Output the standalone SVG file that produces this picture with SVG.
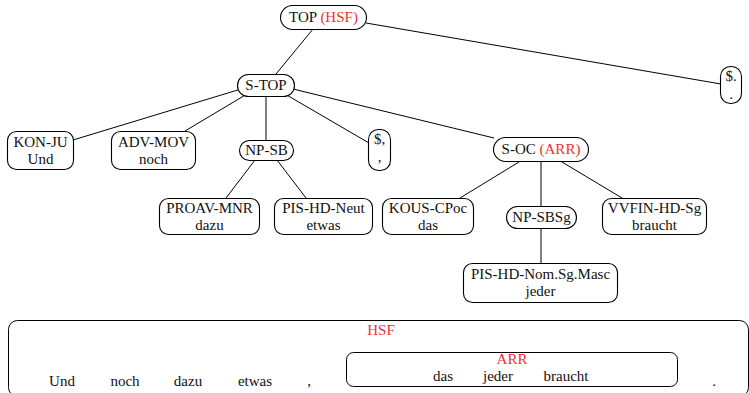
<svg xmlns="http://www.w3.org/2000/svg" width="749" height="393" viewBox="0 0 749 393" font-family="Liberation Serif, DejaVu Serif, serif">
<style>
text{font-size:15px;fill:#111;text-anchor:middle}
.r{fill:#f03030}
.n{fill:#fff;stroke:#000;stroke-width:1.1}
.c line{stroke:#000;stroke-width:1}
.b{fill:none;stroke:#000;stroke-width:1}
</style>
<rect width="749" height="393" fill="#fff"/>
<g class="c" id="connectors">
<line x1="313" y1="29" x2="276" y2="74"/>
<line x1="366" y1="23" x2="721" y2="84"/>
<line x1="241" y1="89" x2="73" y2="140"/>
<line x1="247" y1="94" x2="185" y2="131"/>
<line x1="266" y1="97" x2="266" y2="140"/>
<line x1="285" y1="94" x2="369" y2="143"/>
<line x1="293" y1="89" x2="494" y2="138"/>
<line x1="255" y1="160" x2="226" y2="198"/>
<line x1="277" y1="160" x2="306" y2="198"/>
<line x1="519" y1="162" x2="460" y2="198"/>
<line x1="541" y1="162" x2="541" y2="206"/>
<line x1="562" y1="162" x2="622" y2="198"/>
<line x1="541" y1="228" x2="541" y2="263"/>
</g>
<g id="n-top"><rect class="n" x="280.5" y="5.5" width="86" height="24" rx="12"/><text x="323.5" y="22">TOP <tspan class="r">(HSF)</tspan></text></g>
<g id="n-stop"><rect class="n" x="237.5" y="74.5" width="57" height="22" rx="11"/><text x="266" y="90">S-TOP</text></g>
<g id="n-dot"><rect class="n" x="720.5" y="66.5" width="21" height="37" rx="10"/><text x="731" y="81">$.</text><text x="731" y="99">.</text></g>
<g id="n-konju"><rect class="n" x="7.5" y="131.5" width="66" height="38" rx="9"/><text x="40.5" y="147">KON-JU</text><text x="40.5" y="164">Und</text></g>
<g id="n-advmov"><rect class="n" x="111.5" y="131.5" width="84" height="38" rx="9"/><text x="153.5" y="147">ADV-MOV</text><text x="153.5" y="164">noch</text></g>
<g id="n-npsb"><rect class="n" x="239.5" y="140.5" width="54" height="20" rx="10"/><text x="266.5" y="155">NP-SB</text></g>
<g id="n-comma"><rect class="n" x="368.5" y="129.5" width="22" height="41" rx="10"/><text x="379.5" y="144">$,</text><text x="379.5" y="162">,</text></g>
<g id="n-soc"><rect class="n" x="493.5" y="137.5" width="95" height="24" rx="12"/><text x="541" y="154">S-OC <tspan class="r">(ARR)</tspan></text></g>
<g id="n-proav"><rect class="n" x="159.5" y="198.5" width="100" height="36" rx="9"/><text x="209.5" y="213">PROAV-MNR</text><text x="209.5" y="230">dazu</text></g>
<g id="n-pisneut"><rect class="n" x="274.5" y="198.5" width="98" height="36" rx="9"/><text x="323.5" y="213">PIS-HD-Neut</text><text x="323.5" y="230">etwas</text></g>
<g id="n-kous"><rect class="n" x="382.5" y="198.5" width="91" height="36" rx="9"/><text x="428" y="213">KOUS-CPoc</text><text x="428" y="230">das</text></g>
<g id="n-npsbsg"><rect class="n" x="506.5" y="206.5" width="70" height="22" rx="11"/><text x="541.5" y="222">NP-SBSg</text></g>
<g id="n-vvfin"><rect class="n" x="602.5" y="198.5" width="104" height="36" rx="9"/><text x="654.5" y="213">VVFIN-HD-Sg</text><text x="654.5" y="230">braucht</text></g>
<g id="n-pisnom"><rect class="n" x="463.5" y="263.5" width="154" height="39" rx="9"/><text x="540.5" y="279">PIS-HD-Nom.Sg.Masc</text><text x="540.5" y="296">jeder</text></g>
<g id="hsf-box">
<rect class="b" x="8.5" y="320.5" width="740" height="76" rx="9"/>
<text class="r" x="381" y="335">HSF</text>
<text x="62" y="386">Und</text>
<text x="125" y="386">noch</text>
<text x="188" y="386">dazu</text>
<text x="255" y="386">etwas</text>
<text x="309" y="386">,</text>
<text x="714" y="386">.</text>
</g>
<g id="arr-box">
<rect class="b" x="346.5" y="352.5" width="331" height="34" rx="7"/>
<text class="r" x="512" y="364">ARR</text>
<text x="443" y="381">das</text>
<text x="498" y="381">jeder</text>
<text x="566" y="381">braucht</text>
</g>
</svg>
